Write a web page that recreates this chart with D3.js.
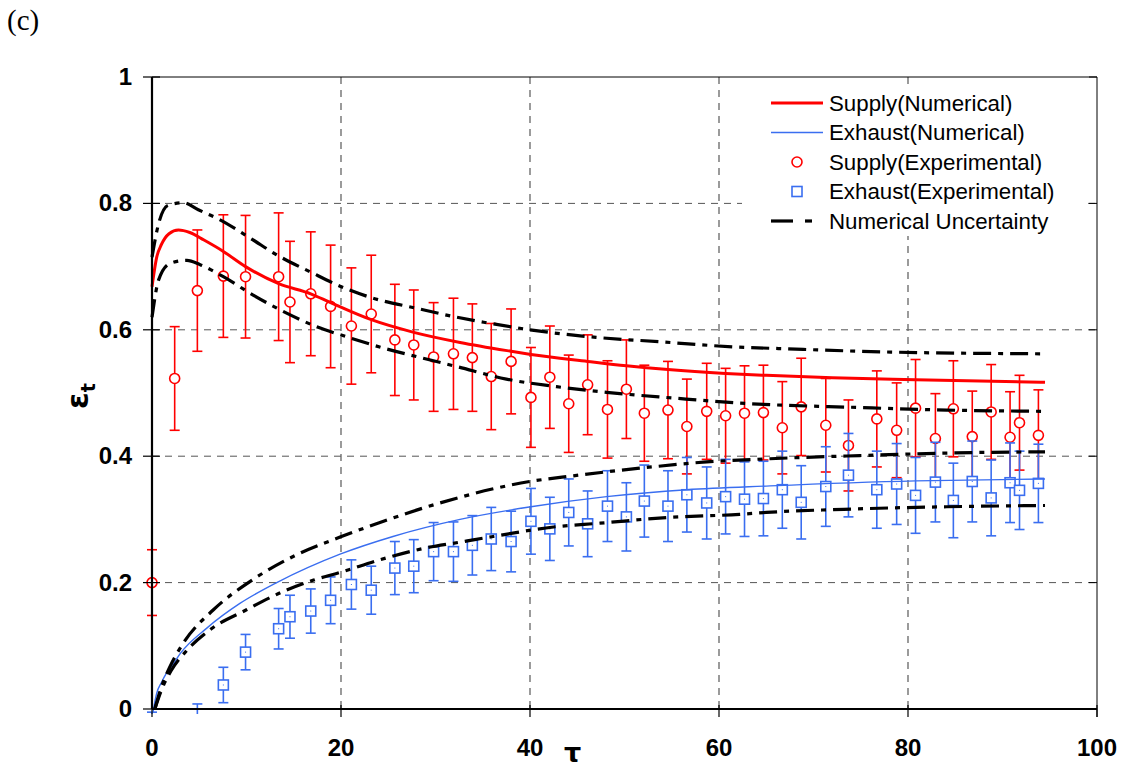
<!DOCTYPE html>
<html>
<head>
<meta charset="utf-8">
<script src="https://cdn.jsdelivr.net/npm/d3@7"></script>
<style>
  html, body { margin: 0; padding: 0; background: #fff; }
  svg { display: block; font-family: "Liberation Sans", Arial, sans-serif; }
</style>
</head>
<body>
<div id="chart"></div>
<script>
// tick values
const xTicks = [0, 20, 40, 60, 80, 100];
const yTicks = [0, 0.2, 0.4, 0.6, 0.8, 1];
const yTickLabels = ["0", "0.2", "0.4", "0.6", "0.8", "1"];

// numerical curves [tau, eps]
const supplyNum = [[0, 0.668], [0.5, 0.715], [1, 0.735], [1.8, 0.752], [2.8, 0.758], [4, 0.754], [5.5, 0.742],
  [7.55, 0.724], [9.9, 0.700], [13.4, 0.673], [16.8, 0.657], [18.9, 0.643], [23.2, 0.616], [27.7, 0.596],
  [32.6, 0.580], [38, 0.566], [40.1, 0.561], [46.1, 0.550], [50.2, 0.543], [54.6, 0.537], [60.7, 0.531],
  [65, 0.528], [72, 0.524], [80.8, 0.521], [94.5, 0.517]];
const exhaustNum = [[0.1, -0.005], [0.5, 0.025], [1, 0.042], [1.5, 0.056], [2.1, 0.068], [3, 0.088], [5.8, 0.128],
  [9.3, 0.167], [13.2, 0.200], [19.9, 0.245], [25.5, 0.273], [32.6, 0.300], [40.1, 0.320], [48.1, 0.336],
  [56.6, 0.347], [65.4, 0.353], [80.8, 0.361], [94.5, 0.364]];

// uncertainty band edges
const supplyUpper = [[0, 0.715], [0.7, 0.768], [1.7, 0.797], [3.3, 0.801], [4.9, 0.790], [7.2, 0.774], [10.4, 0.745],
  [13.5, 0.716], [16.7, 0.692], [19.9, 0.669], [23.4, 0.650], [28, 0.634], [31.9, 0.621], [35.1, 0.612], [40, 0.600],
  [47, 0.588], [53.8, 0.581], [61.5, 0.573], [67, 0.570], [77.4, 0.565], [94.5, 0.562]];
const supplyLower = [[0, 0.620], [0.7, 0.679], [1.9, 0.705], [3.7, 0.710], [5.1, 0.703], [7.55, 0.684], [10.7, 0.655],
  [14.3, 0.626], [17.4, 0.605], [20.6, 0.589], [24.5, 0.571], [28.7, 0.555], [32.2, 0.542], [37.5, 0.522],
  [42.8, 0.510], [48.1, 0.501], [55.2, 0.492], [62.2, 0.484], [74.9, 0.477], [84.1, 0.473], [94.5, 0.471]];
const exhaustUpper = [[0.3, 0], [1, 0.035], [1.9, 0.067], [3.3, 0.104], [6.5, 0.157], [10.7, 0.205], [15.3, 0.244],
  [19.9, 0.272], [24.5, 0.297], [28.7, 0.318], [32.6, 0.335], [36, 0.348], [40, 0.360], [44.6, 0.369],
  [51.6, 0.381], [58.7, 0.391], [65.4, 0.396], [74.9, 0.401], [84.1, 0.405], [94.5, 0.407]];
const exhaustLower = [[0.3, 0], [1, 0.030], [2, 0.060], [3.7, 0.093], [6.1, 0.125], [10, 0.157], [13.9, 0.186],
  [17.1, 0.204], [19.9, 0.216], [24.1, 0.236], [28.7, 0.254], [32.6, 0.264], [36.1, 0.273], [42.5, 0.288],
  [47.4, 0.294], [54.5, 0.303], [62.2, 0.308], [65, 0.311], [73.2, 0.316], [84.1, 0.320], [94.5, 0.322]];

// experimental points [tau, eps, error]
const supplyExp = [[0, 0.200, 0.052], [2.4, 0.523, 0.082], [4.8, 0.662, 0.096], [7.55, 0.685, 0.097], [9.9, 0.684, 0.097],
  [13.4, 0.684, 0.101], [14.6, 0.644, 0.096], [16.8, 0.657, 0.098], [18.9, 0.637, 0.097], [21.1, 0.606, 0.092],
  [23.2, 0.625, 0.093], [25.7, 0.584, 0.088], [27.7, 0.576, 0.087], [29.8, 0.557, 0.086], [31.9, 0.562, 0.088],
  [33.9, 0.556, 0.085], [35.9, 0.526, 0.084], [38, 0.550, 0.083], [40.1, 0.493, 0.079], [42.1, 0.525, 0.081],
  [44.1, 0.483, 0.077], [46.1, 0.513, 0.079], [48.2, 0.474, 0.077], [50.2, 0.506, 0.078], [52.1, 0.468, 0.076],
  [54.6, 0.473, 0.077], [56.6, 0.447, 0.075], [58.7, 0.471, 0.076], [60.7, 0.464, 0.075], [62.7, 0.468, 0.075],
  [64.7, 0.469, 0.075], [66.7, 0.445, 0.073], [68.7, 0.478, 0.077], [71.3, 0.449, 0.074], [73.7, 0.417, 0.072],
  [76.7, 0.459, 0.076], [78.8, 0.441, 0.075], [80.8, 0.476, 0.077], [82.9, 0.428, 0.071], [84.8, 0.475, 0.076],
  [86.8, 0.431, 0.072], [88.8, 0.470, 0.075], [90.8, 0.430, 0.072], [91.8, 0.453, 0.075], [93.8, 0.433, 0.072]];
const exhaustExp = [[0, -0.060, 0.055], [4.8, -0.047, 0.055], [7.55, 0.038, 0.028], [9.9, 0.090, 0.028],
  [13.4, 0.127, 0.032], [14.6, 0.146, 0.034], [16.8, 0.155, 0.035], [18.9, 0.172, 0.037], [21.1, 0.197, 0.039],
  [23.2, 0.188, 0.038], [25.7, 0.223, 0.042], [27.7, 0.226, 0.042], [29.8, 0.249, 0.046], [31.9, 0.249, 0.047],
  [33.9, 0.259, 0.047], [35.9, 0.269, 0.050], [38, 0.265, 0.048], [40.1, 0.297, 0.052], [42.1, 0.285, 0.050],
  [44.1, 0.311, 0.053], [46.1, 0.293, 0.052], [48.2, 0.321, 0.056], [50.2, 0.304, 0.054], [52.1, 0.329, 0.057],
  [54.6, 0.321, 0.056], [56.6, 0.339, 0.059], [58.7, 0.326, 0.057], [60.7, 0.336, 0.059], [62.7, 0.332, 0.059],
  [64.7, 0.333, 0.059], [66.7, 0.347, 0.061], [68.7, 0.327, 0.058], [71.3, 0.352, 0.063], [73.7, 0.370, 0.066],
  [76.7, 0.347, 0.061], [78.8, 0.356, 0.064], [80.8, 0.338, 0.060], [82.9, 0.359, 0.063], [84.8, 0.330, 0.059],
  [86.8, 0.360, 0.064], [88.8, 0.334, 0.060], [90.8, 0.358, 0.063], [91.8, 0.346, 0.062], [93.8, 0.357, 0.062]];

const legendLabels = ["Supply(Numerical)", "Exhaust(Numerical)", "Supply(Experimental)",
  "Exhaust(Experimental)", "Numerical Uncertainty"];

const RED = "#ff0000";
const BLUE = "#3a6ef0";

const W = 1123, H = 771;
const pLeft = 152, pRight = 1097, pTop = 77, pBottom = 709;

const svg = d3.select("#chart").append("svg")
  .attr("width", W)
  .attr("height", H);

const x = d3.scaleLinear().domain([0, 100]).range([pLeft, pRight]);
const y = d3.scaleLinear().domain([0, 1]).range([pBottom, pTop]);

// clip below the x axis (marks may run a few px past it, like the original)
svg.append("defs").append("clipPath").attr("id", "plotclip")
  .append("rect").attr("x", pLeft - 20).attr("y", pTop - 10)
  .attr("width", pRight - pLeft + 30).attr("height", pBottom - pTop + 15);

// grid
const grid = svg.append("g");
grid.selectAll("line.h").data(yTicks.slice(1, -1)).enter().append("line")
  .attr("x1", pLeft).attr("x2", pRight)
  .attr("y1", d => y(d)).attr("y2", d => y(d))
  .attr("stroke", "#555").attr("stroke-width", 1).attr("stroke-dasharray", "7,6");
grid.selectAll("line.v").data(xTicks.slice(1, -1)).enter().append("line")
  .attr("y1", pTop).attr("y2", pBottom)
  .attr("x1", d => x(d)).attr("x2", d => x(d))
  .attr("stroke", "#666").attr("stroke-width", 1.3).attr("stroke-dasharray", "7,6");

// frame (top / right thin)
svg.append("line").attr("x1", pLeft).attr("x2", pRight).attr("y1", pTop).attr("y2", pTop)
  .attr("stroke", "#000").attr("stroke-width", 1);
svg.append("line").attr("x1", pRight).attr("x2", pRight).attr("y1", pTop).attr("y2", pBottom + 8)
  .attr("stroke", "#000").attr("stroke-width", 1);
svg.selectAll("line.rt").data(yTicks).enter().append("line")
  .attr("x1", pRight - 8).attr("x2", pRight)
  .attr("y1", d => y(d)).attr("y2", d => y(d))
  .attr("stroke", "#000").attr("stroke-width", 1);

const plot = svg.append("g").attr("clip-path", "url(#plotclip)");

function drawExp(data, color, shape) {
  const g = plot.append("g");
  const cap = 5;
  g.selectAll("line.bar").data(data).enter().append("line")
    .attr("x1", d => x(d[0])).attr("x2", d => x(d[0]))
    .attr("y1", d => y(d[1] - d[2])).attr("y2", d => y(d[1] + d[2]))
    .attr("stroke", color).attr("stroke-width", 1.6);
  g.selectAll("line.capt").data(data).enter().append("line")
    .attr("x1", d => x(d[0]) - cap).attr("x2", d => x(d[0]) + cap)
    .attr("y1", d => y(d[1] + d[2])).attr("y2", d => y(d[1] + d[2]))
    .attr("stroke", color).attr("stroke-width", 1.6);
  g.selectAll("line.capb").data(data).enter().append("line")
    .attr("x1", d => x(d[0]) - cap).attr("x2", d => x(d[0]) + cap)
    .attr("y1", d => y(d[1] - d[2])).attr("y2", d => y(d[1] - d[2]))
    .attr("stroke", color).attr("stroke-width", 1.6);
  if (shape === "circle") {
    g.selectAll("circle").data(data).enter().append("circle")
      .attr("cx", d => x(d[0])).attr("cy", d => y(d[1])).attr("r", 5)
      .attr("fill", "#fff").attr("stroke", color).attr("stroke-width", 1.6);
  } else {
    g.selectAll("rect.sq").data(data).enter().append("rect")
      .attr("x", d => x(d[0]) - 5).attr("y", d => y(d[1]) - 5)
      .attr("width", 10).attr("height", 10)
      .attr("fill", "#fff").attr("stroke", color).attr("stroke-width", 1.6);
    g.selectAll("rect.dot").data(data).enter().append("rect")
      .attr("x", d => x(d[0]) - 0.5).attr("y", d => y(d[1]) - 0.5)
      .attr("width", 1).attr("height", 1).attr("fill", color);
  }
}

drawExp(supplyExp, RED, "circle");
drawExp(exhaustExp, BLUE, "square");

const line = d3.line().x(d => x(d[0])).y(d => y(d[1])).curve(d3.curveMonotoneX);

plot.append("path").datum(supplyNum).attr("d", line)
  .attr("fill", "none").attr("stroke", RED).attr("stroke-width", 3);
plot.append("path").datum(exhaustNum).attr("d", line)
  .attr("fill", "none").attr("stroke", BLUE).attr("stroke-width", 1.4);

for (const band of [supplyUpper, supplyLower, exhaustUpper, exhaustLower]) {
  plot.append("path").datum(band).attr("d", line)
    .attr("fill", "none").attr("stroke", "#000").attr("stroke-width", 3.2)
    .attr("stroke-dasharray", "18,7,5,7");
}

// left / bottom axes (thick)
svg.append("line").attr("x1", pLeft).attr("x2", pLeft).attr("y1", pTop).attr("y2", pBottom)
  .attr("stroke", "#000").attr("stroke-width", 2.2);
svg.append("line").attr("x1", pLeft).attr("x2", pRight).attr("y1", pBottom).attr("y2", pBottom)
  .attr("stroke", "#000").attr("stroke-width", 2.2);
svg.selectAll("line.lt").data(yTicks).enter().append("line")
  .attr("x1", pLeft - 9).attr("x2", pLeft + 8)
  .attr("y1", d => y(d)).attr("y2", d => y(d))
  .attr("stroke", "#000").attr("stroke-width", 1.2);
svg.selectAll("line.bt").data(xTicks).enter().append("line")
  .attr("x1", d => x(d)).attr("x2", d => x(d))
  .attr("y1", pBottom - 4).attr("y2", pBottom + 8)
  .attr("stroke", "#000").attr("stroke-width", 1.2);

// tick labels
svg.selectAll("text.yl").data(yTicks).enter().append("text")
  .attr("x", pLeft - 20).attr("y", d => y(d) + 8)
  .attr("text-anchor", "end").attr("font-size", 24).attr("font-weight", "bold")
  .text((d, i) => yTickLabels[i]);
svg.selectAll("text.xl").data(xTicks).enter().append("text")
  .attr("x", d => x(d)).attr("y", 756)
  .attr("text-anchor", "middle").attr("font-size", 24).attr("font-weight", "bold")
  .text(d => d);

// axis titles
svg.append("text").attr("x", x(44.5)).attr("y", 762)
  .attr("text-anchor", "middle").attr("font-size", 27).attr("font-weight", "bold")
  .attr("font-family", "'DejaVu Sans', sans-serif").text("τ");
const yt = svg.append("text")
  .attr("transform", "translate(88," + (y(0.5) + 3) + ") rotate(-90)")
  .attr("text-anchor", "middle").attr("font-weight", "bold")
  .attr("font-family", "'DejaVu Sans', sans-serif");
yt.append("tspan").attr("font-size", 30).text("ε");
yt.append("tspan").attr("font-size", 19).attr("dy", 7).text("t");

// panel label
svg.append("text").attr("x", 7).attr("y", 30)
  .attr("font-family", "'Liberation Serif', 'Times New Roman', serif").attr("font-size", 29)
  .text("(c)");

// legend
const lg = svg.append("g");
lg.append("rect").attr("x", 742).attr("y", 84).attr("width", 346).attr("height", 152).attr("fill", "#fff");
const rowY = i => 103 + i * 29.5;
lg.append("line").attr("x1", 771).attr("x2", 823).attr("y1", rowY(0)).attr("y2", rowY(0))
  .attr("stroke", RED).attr("stroke-width", 3);
lg.append("line").attr("x1", 771).attr("x2", 823).attr("y1", rowY(1)).attr("y2", rowY(1))
  .attr("stroke", BLUE).attr("stroke-width", 1.4);
lg.append("circle").attr("cx", 797).attr("cy", rowY(2)).attr("r", 5)
  .attr("fill", "#fff").attr("stroke", RED).attr("stroke-width", 1.6);
lg.append("rect").attr("x", 792).attr("y", rowY(3) - 5).attr("width", 10).attr("height", 10)
  .attr("fill", "#fff").attr("stroke", BLUE).attr("stroke-width", 1.6);
lg.append("line").attr("x1", 771).attr("x2", 793).attr("y1", rowY(4)).attr("y2", rowY(4))
  .attr("stroke", "#000").attr("stroke-width", 3.2);
lg.append("line").attr("x1", 805).attr("x2", 812).attr("y1", rowY(4)).attr("y2", rowY(4))
  .attr("stroke", "#000").attr("stroke-width", 3.2);
lg.selectAll("text").data(legendLabels).enter().append("text")
  .attr("x", 829).attr("y", (d, i) => rowY(i) + 7.5)
  .attr("font-size", 22.3).text(d => d);
</script>
</body>
</html>
